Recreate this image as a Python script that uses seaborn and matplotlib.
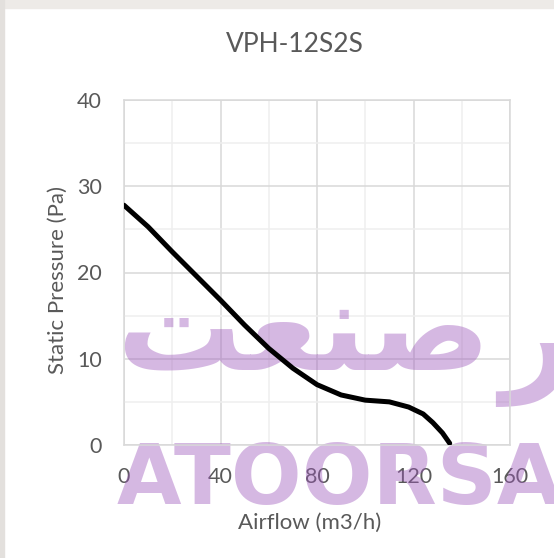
import numpy as np
import matplotlib
matplotlib.use("Agg")
import matplotlib.pyplot as plt
import seaborn as sns
from matplotlib.ticker import MultipleLocator

# data
airflow = [0, 10, 20, 30, 40, 50, 60, 70, 80, 90, 100, 110, 118, 124, 128, 132, 135]
pressure = [27.8, 25.3, 22.4, 19.6, 16.8, 13.9, 11.2, 8.9, 7.0, 5.8, 5.2, 5.0, 4.4, 3.6, 2.6, 1.4, 0.2]

x_ticks = [0, 40, 80, 120, 160]
y_ticks = [0, 10, 20, 30, 40]

sns.set_theme(style="white")
plt.rcParams['font.family'] = ['Lato', 'DejaVu Sans']
txt = '#595959'

fig = plt.figure(figsize=(5.54, 5.58), dpi=100)
fig.patch.set_facecolor('white')

# frame of the screenshot (gray band top and left)
fig.patches.append(plt.Rectangle((0, 1 - 8 / 558), 1, 8 / 558, transform=fig.transFigure,
                                 color='#EDEAE7', zorder=0))
fig.patches.append(plt.Rectangle((0, 0), 4 / 554, 1, transform=fig.transFigure,
                                 color='#E3E0DD', zorder=0))

ax = fig.add_axes([124 / 554, 1 - 445 / 558, 386 / 554, 345 / 558])
df = {'x': airflow, 'y': pressure}
sns.lineplot(x='x', y='y', data=df, ax=ax, color='black', linewidth=3.6, zorder=3)

ax.set_xlim(0, 160)
ax.set_ylim(0, 40)
ax.set_xticks(x_ticks)
ax.set_yticks(y_ticks)
ax.xaxis.set_minor_locator(MultipleLocator(20))
ax.yaxis.set_minor_locator(MultipleLocator(5))
ax.grid(which='major', color='#D9D9D9', linewidth=1.1)
ax.grid(which='minor', color='#EFEFEF', linewidth=1.1)
ax.set_axisbelow(True)
for s in ax.spines.values():
    s.set_color('#D9D9D9')
    s.set_linewidth(1.1)
ax.tick_params(which='both', length=0, labelsize=15.5, labelcolor=txt)
ax.tick_params(axis='x', pad=16)
ax.tick_params(axis='y', pad=16)
ax.set_xlabel('Airflow (m3/h)', fontsize=16, color=txt)
ax.set_ylabel('Static Pressure (Pa)', fontsize=16, color=txt)
ax.xaxis.set_label_coords((310 - 124) / 386, -(523 - 445) / 345)
ax.yaxis.set_label_coords(-(124 - 58) / 386, (445 - 280) / 345)
ax.xaxis.label.set_va('center')
ax.yaxis.label.set_va('center')

fig.text(295 / 554, 1 - 44 / 558, 'VPH-12S2S', ha='center', va='center', fontsize=19, color=txt)

# watermark
wm = '#9D57BB'
wm_kw = dict(transform=ax.transAxes, fontweight='bold', family='DejaVu Sans', color=wm,
             alpha=0.42, ha='left', va='baseline', clip_on=False, zorder=1.8)
ax.text(-0.02, -0.17, 'ATOORSAN', fontsize=60, **wm_kw)
ax.text(-0.02, 0.22, '\uFE96\uFECC\uFEE8\uFEBB', fontsize=90, **wm_kw)
ax.text(0.975, 0.20, '\uFEAD\uFEED\uFE97\uFE81', fontsize=90, **wm_kw)

fig.savefig('out.png', dpi=100, facecolor=fig.get_facecolor())
